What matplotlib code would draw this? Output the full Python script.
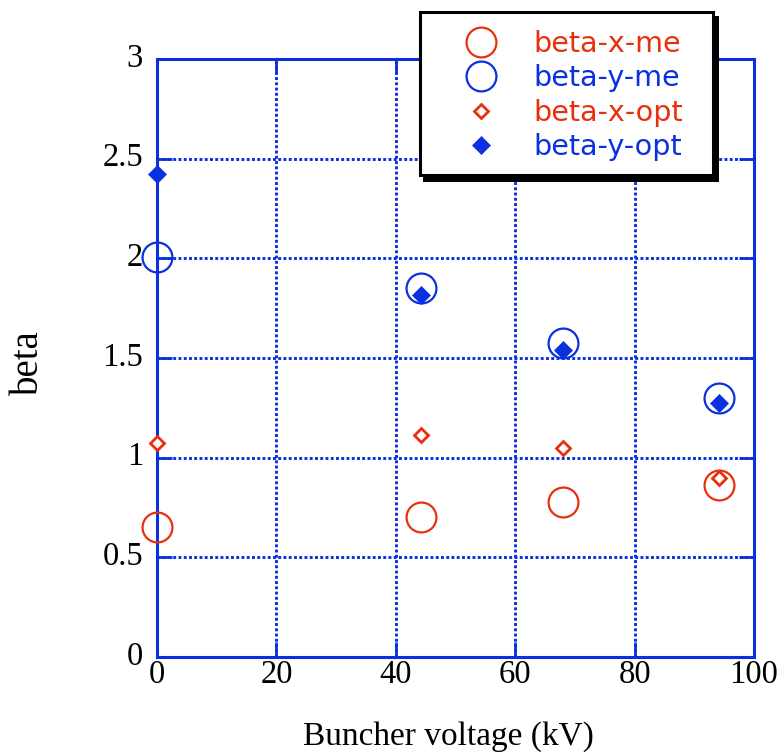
import matplotlib
matplotlib.use("Agg")
import matplotlib.pyplot as plt
from matplotlib.patches import Rectangle
from matplotlib.transforms import ScaledTranslation

# ---- data ----
voltage = [0, 44.3, 68, 94.2]
beta_x_me = [0.654, 0.702, 0.776, 0.863]
beta_y_me = [2.005, 1.850, 1.574, 1.300]
beta_x_opt = [1.072, 1.114, 1.050, 0.900]
beta_y_opt = [2.423, 1.816, 1.540, 1.276]
series_labels = ["beta-x-me", "beta-y-me", "beta-x-opt", "beta-y-opt"]
xticks = [0, 20, 40, 60, 80, 100]
yticks = [0, 0.5, 1, 1.5, 2, 2.5, 3]
yticklabels = ["0", "0.5", "1", "1.5", "2", "2.5", "3"]

RED = "#e8300c"
BLUE = "#0a30e0"
W, H = 782, 755

fig = plt.figure(figsize=(W / 100, H / 100), dpi=100)
ax = fig.add_axes([157 / W, 1 - 657 / H, (754 - 157) / W, (657 - 59) / H])

serif = "Liberation Serif"

l1, = ax.plot(voltage, beta_x_me, linestyle="none", marker="o", ms=21.5, mfc="none",
              mec=RED, mew=1.6, color=RED, clip_on=False, zorder=3)
l2, = ax.plot(voltage, beta_y_me, linestyle="none", marker="o", ms=21.5, mfc="none",
              mec=BLUE, mew=1.6, color=BLUE, clip_on=False, zorder=3)
l3, = ax.plot(voltage, beta_x_opt, linestyle="none", marker="D", ms=6.8, mfc="white",
              mec=RED, mew=2.0, color=RED, clip_on=False, zorder=4)
l4, = ax.plot(voltage, beta_y_opt, linestyle="none", marker="D", ms=9.3, mfc=BLUE,
              mec=BLUE, mew=0.5, color=BLUE, clip_on=False, zorder=4)

ax.set_xlim(0, 100)
ax.set_ylim(0, 3)
ax.set_xticks(xticks)
ax.set_xticklabels([str(v) for v in xticks], fontfamily=serif, fontsize=23.5)
ax.set_yticks(yticks)
ax.set_yticklabels(yticklabels, fontfamily=serif, fontsize=23.5)
ax.tick_params(axis="both", direction="in", length=11, width=2.0, color=BLUE,
               top=True, right=True)
ax.tick_params(axis="x", pad=2)
ax.tick_params(axis="y", pad=10)
for lab in ax.get_yticklabels():
    lab.set_transform(lab.get_transform() + ScaledTranslation(0, 0.04, fig.dpi_scale_trans))

for sp in ax.spines.values():
    sp.set_color(BLUE)
    sp.set_linewidth(2.2)

ax.grid(True, color=BLUE, linestyle=(0, (1.0, 0.8)), linewidth=2.1)
ax.set_axisbelow(True)

ax.set_xlabel("Buncher voltage (kV)", fontfamily=serif, fontsize=24, va="center")
ax.xaxis.set_label_coords((448 - 157) / 597, (657 - 737) / 598)
ax.set_ylabel("beta", fontfamily=serif, fontsize=28, va="center")
ax.yaxis.set_label_coords((28 - 157) / 597, (657 - 363) / 598)

# ---- legend box with shadow ----
def fx(px):
    return px / W

def fy(py):
    return 1 - py / H

shadow = Rectangle((fx(423), fy(182)), fx(719) - fx(423), fy(16) - fy(182),
                   transform=fig.transFigure, facecolor="black", edgecolor="none", zorder=3)
box = Rectangle((fx(419.5), fy(174.5)), fx(712.5) - fx(419.5), fy(12.5) - fy(174.5),
                transform=fig.transFigure, facecolor="white", edgecolor="black",
                linewidth=2.2, zorder=4)
fig.add_artist(shadow)
fig.add_artist(box)

leg = fig.legend([l1, l2, l3, l4], series_labels, frameon=False, loc="upper left",
                 bbox_to_anchor=(fx(452.5), fy(30)), borderpad=0, borderaxespad=0,
                 handlelength=2, handletextpad=0.84, labelspacing=0.22, numpoints=1,
                 prop={"family": "DejaVu Sans", "size": 20.6})
leg.set_zorder(6)
for txt, c in zip(leg.get_texts(), [RED, BLUE, RED, BLUE]):
    txt.set_color(c)

fig.savefig("out.png", dpi=100)
